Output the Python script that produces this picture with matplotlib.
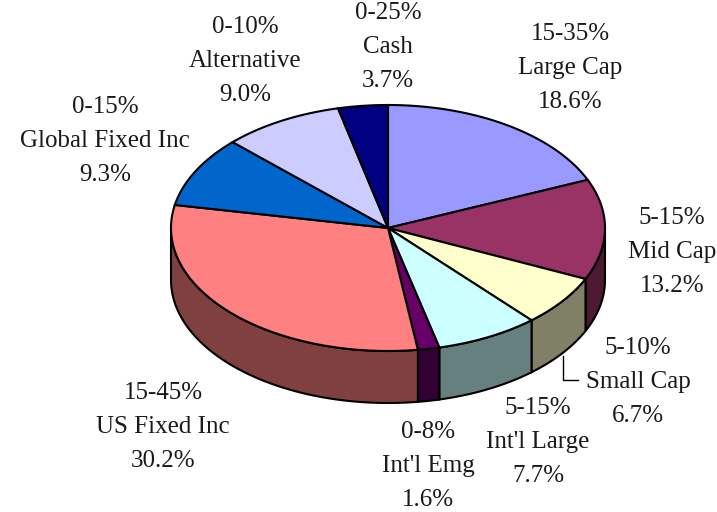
import matplotlib.pyplot as plt
import numpy as np
from matplotlib.patches import Polygon

# data, clockwise from 12 o'clock
names = ['Large Cap', 'Mid Cap', 'Small Cap', "Int'l Large", "Int'l Emg",
         'US Fixed Inc', 'Global Fixed Inc', 'Alternative', 'Cash']
ranges = ['15-35%', '5-15%', '5-10%', '5-15%', '0-8%',
          '15-45%', '0-15%', '0-10%', '0-25%']
values = [18.6, 13.2, 6.7, 7.7, 1.6, 30.2, 9.3, 9.0, 3.7]
colors = ['#9999FF', '#993366', '#FFFFCC', '#CCFFFF', '#660066',
          '#FF8080', '#0066CC', '#CCCCFF', '#000080']

# label centres (pixels, first line), layout only
label_pos = [(570, 34), (672, 218), (638, 348), (538, 408), (428, 432),
             (163, 393), (105, 107), (245, 27), (388, 13)]

cx, cy = 388, 228     # pie centre
rx, ry = 217, 123     # ellipse radii
depth = 52            # side wall height
W, H = 717, 512

fig = plt.figure(figsize=(W / 100, H / 100), dpi=100)
ax = fig.add_axes([0, 0, 1, 1])
ax.set_xlim(0, W)
ax.set_ylim(H, 0)
ax.axis('off')


def pt(a, dy=0):
    r = np.radians(a)
    return cx + rx * np.cos(r), cy - ry * np.sin(r) + dy


def darker(c):
    c = c.lstrip('#')
    rgb = [int(c[i:i + 2], 16) / 255 for i in (0, 2, 4)]
    return tuple(v * 0.5 for v in rgb)


cum = np.concatenate([[0], np.cumsum(values)])
starts = 90 - 360 * cum[:-1] / 100
ends = 90 - 360 * cum[1:] / 100

# side walls (front half only: angles -180..0)
for a0, a1, c in zip(starts, ends, colors):
    hi = min(a0, 0)
    lo = max(a1, -180)
    if hi <= lo:
        continue
    angs = np.linspace(hi, lo, 60)
    top = [pt(a) for a in angs]
    bot = [pt(a, depth) for a in angs[::-1]]
    ax.add_patch(Polygon(top + bot, closed=True, facecolor=darker(c),
                         edgecolor='black', lw=1.5, joinstyle='miter'))

# top wedges
for a0, a1, c in zip(starts, ends, colors):
    angs = np.linspace(a0, a1, max(int(abs(a0 - a1)) * 2, 4))
    verts = [(cx, cy)] + [pt(a) for a in angs]
    ax.add_patch(Polygon(verts, closed=True, facecolor=c,
                         edgecolor='black', lw=1.5, joinstyle='miter'))

# labels
for rng, name, v, (lx, ly) in zip(ranges, names, values, label_pos):
    for k, line in enumerate([rng, name, f'{v:.1f}%']):
        ax.text(lx, ly + 34 * k, line, ha='center', va='center',
                fontsize=18, family='Liberation Serif', color='#1a1a1a')

# leader line for Small Cap
ax.plot([563, 563, 578], [356, 380, 380], color='black', lw=1)

fig.savefig('out.png', dpi=100)
